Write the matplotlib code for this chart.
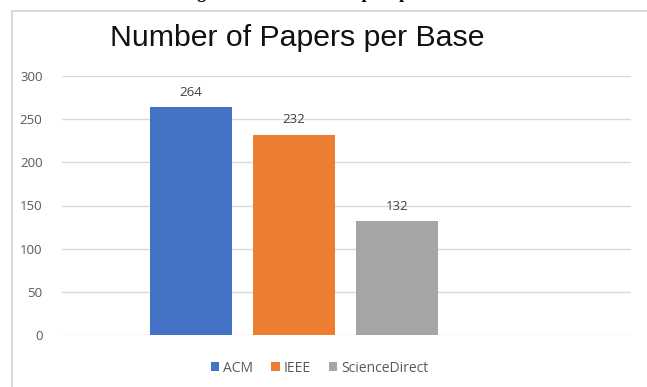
import matplotlib
matplotlib.use('Agg')
import matplotlib.pyplot as plt
from matplotlib.patches import Rectangle, Patch

# data
bases = ['ACM', 'IEEE', 'ScienceDirect']
papers = [264, 232, 132]
colors = ['#4472C4', '#ED7D31', '#A5A5A5']
yticks = [0, 50, 100, 150, 200, 250, 300]

fig = plt.figure(figsize=(6.47, 3.87), dpi=100)
ax = fig.add_axes([62 / 647, 1 - 335 / 387, 569 / 647, 259 / 387])

# cut-off caption of the paper above the chart (only descenders visible)
fig.text(0.5, 1.0 + 1.5 / 387, 'Figure 2. Number of Papers per Base', ha='center', va='baseline',
         fontsize=13, fontweight='bold', family='Liberation Serif', color='black')

# light frame around the chart area
fig.patches.append(Rectangle((11.5 / 647, -0.2), 1.2, 1.2 - 11.5 / 387,
                             transform=fig.transFigure, fill=False,
                             edgecolor='#D9D9D9', linewidth=1.5))

x = list(range(len(bases)))
ax.bar(x, papers, width=0.79, color=colors, zorder=3)
for xi, v in zip(x, papers):
    ax.annotate(str(v), (xi, v), xytext=(0, 6), textcoords='offset points',
                ha='center', va='bottom', fontsize=9.5, color='#404040',
                family='Open Sans')

ax.set_xlim(-1.252, 4.272)
ax.set_ylim(0, 300)
ax.set_yticks(yticks)
ax.set_xticks([])
ax.grid(axis='y', color='#D9D9D9', linewidth=1, zorder=0)
ax.tick_params(axis='y', length=0, pad=14, labelsize=9.5, labelcolor='#595959')
for lbl in ax.get_yticklabels():
    lbl.set_family('Open Sans')
for s in ax.spines.values():
    s.set_visible(False)

fig.text(297 / 647, 1 - 38 / 387, 'Number of Papers per Base', fontsize=21.8,
         family='Liberation Sans', color='#111111', ha='center', va='center')

handles = [Patch(facecolor=c, label=b) for b, c in zip(bases, colors)]
fig.legend(handles=handles, loc='center', bbox_to_anchor=(0.494, 1 - 368 / 387),
           ncol=3, frameon=False, handlelength=0.6, handleheight=0.6,
           handletextpad=0.3, columnspacing=1.3,
           prop={'family': 'Open Sans', 'size': 10}, labelcolor='#595959')

fig.savefig('out.png', dpi=100)
